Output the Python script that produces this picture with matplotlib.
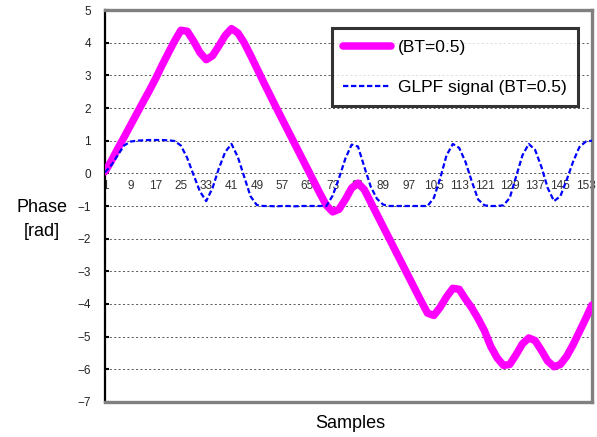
import numpy as np
import matplotlib
matplotlib.use("Agg")
import matplotlib.pyplot as plt

plt.rcParams["font.family"] = ["Liberation Sans", "DejaVu Sans"]

# sample index (every second sample)
samples = np.arange(1, 156, 2)

# accumulated phase [rad]
phase = [
    0.05, 0.38, 0.75, 1.10, 1.46, 1.82, 2.18, 2.53, 2.90, 3.30,
    3.68, 4.05, 4.38, 4.35, 4.05, 3.70, 3.48, 3.60, 3.90, 4.22,
    4.43, 4.30, 4.00, 3.62, 3.22, 2.82, 2.43, 2.04, 1.66, 1.28,
    0.90, 0.52, 0.14, -0.24, -0.62, -0.98, -1.18, -1.10, -0.80, -0.45,
    -0.30, -0.50, -0.88, -1.26, -1.64, -2.02, -2.40, -2.78, -3.16, -3.54,
    -3.92, -4.28, -4.35, -4.10, -3.78, -3.52, -3.55, -3.85, -4.12, -4.45,
    -4.82, -5.30, -5.65, -5.88, -5.85, -5.55, -5.22, -5.04, -5.12, -5.42,
    -5.75, -5.92, -5.85, -5.60, -5.25, -4.85, -4.45, -4.03,
]

# gaussian low-pass filtered NRZ signal
glpf = [
    0.03, 0.25, 0.55, 0.85, 0.97, 1.00, 1.01, 1.02, 1.02, 1.02,
    1.01, 0.99, 0.85, 0.47, -0.05, -0.55, -0.85, -0.45, 0.15, 0.65,
    0.90, 0.50, -0.10, -0.70, -0.97, -1.00, -1.00, -1.01, -1.00, -1.00,
    -1.01, -1.00, -1.00, -1.00, -1.00, -1.00, -0.68, -0.15, 0.45, 0.88,
    0.82, 0.20, -0.40, -0.78, -0.96, -1.00, -1.00, -1.00, -1.00, -1.00,
    -1.00, -1.00, -0.75, -0.15, 0.55, 0.90, 0.78, 0.35, -0.25, -0.80,
    -0.98, -1.00, -1.00, -0.98, -0.75, -0.10, 0.55, 0.90, 0.72, 0.20,
    -0.45, -0.85, -0.70, -0.20, 0.35, 0.80, 0.97, 1.00,
]

xtick_vals = list(range(1, 154, 8))
ytick_vals = list(range(-7, 6))

fig = plt.figure(figsize=(5.97, 4.37), dpi=100)
ax = fig.add_axes([0.1759, 0.0801, 0.8157, 0.8970])

ax.plot(samples, phase, color="#ff00ff", lw=5.4, solid_capstyle="round",
        solid_joinstyle="round", label="(BT=0.5)", zorder=3)
ax.plot(samples, glpf, color="#0000ff", lw=1.6, dashes=(2.4, 1.2),
        label="GLPF signal (BT=0.5)", zorder=3)

ax.set_xlim(1, 155)
ax.set_ylim(-7, 5)
ax.set_yticks(ytick_vals)
ax.set_xticks(xtick_vals)
ax.set_xticklabels([str(v) for v in xtick_vals])

# category labels sit on the zero line
ax.spines["bottom"].set_position(("data", 0))
ax.spines["bottom"].set_visible(False)
ax.tick_params(axis="x", length=0, pad=5, labelsize=8.5, labelcolor="#333333")
ax.tick_params(axis="y", direction="in", length=3, width=1.5, pad=10,
               labelsize=8.5, labelcolor="#222222")

ax.spines["left"].set_color("black")
ax.spines["left"].set_linewidth(1.6)
for side in ("top", "right"):
    ax.spines[side].set_color("#808080")
    ax.spines[side].set_linewidth(2.4)
ax.axhline(-7, color="#808080", lw=2.4, clip_on=False, zorder=4)

ax.yaxis.grid(True, color="#555555", lw=0.7, linestyle=(0, (2, 2.5)))
ax.set_axisbelow(True)

leg = ax.legend(loc="upper left", bbox_to_anchor=(0.466, 0.954),
                fontsize=12.5, frameon=True, fancybox=False,
                handlelength=2.75, handletextpad=0.4, labelspacing=1.45,
                borderpad=0.66, borderaxespad=0)
leg.get_frame().set_edgecolor("black")
leg.get_frame().set_linewidth(2.2)

fig.text(42 / 597, 1 - 208 / 437, "Phase", fontsize=13, ha="center", va="center")
fig.text(42 / 597, 1 - 232 / 437, "[rad]", fontsize=13, ha="center", va="center")
fig.text(350 / 597, 1 - 423 / 437, "Samples", fontsize=13, ha="center", va="center")

fig.savefig("out.png", dpi=100)
